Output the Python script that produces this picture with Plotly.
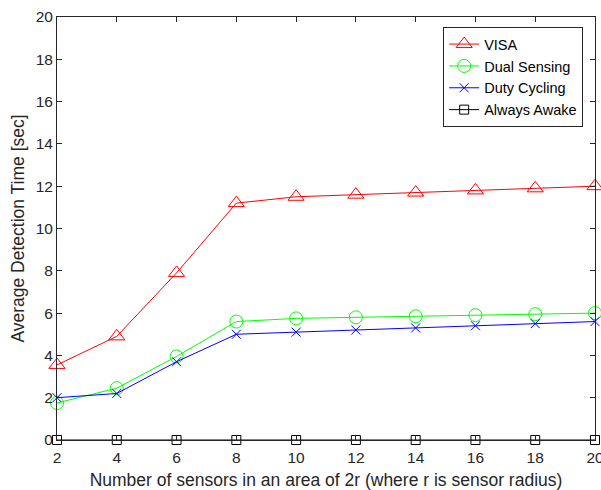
import plotly.graph_objects as go

x_vals = [2, 4, 6, 8, 10, 12, 14, 16, 18, 20]
visa = [3.55, 4.9, 7.9, 11.2, 11.5, 11.6, 11.7, 11.8, 11.9, 12.0]
dual_sensing = [1.75, 2.45, 3.95, 5.6, 5.75, 5.8, 5.85, 5.9, 5.95, 6.0]
duty_cycling = [2.0, 2.2, 3.7, 5.0, 5.1, 5.2, 5.3, 5.4, 5.5, 5.6]
always_awake = [0, 0, 0, 0, 0, 0, 0, 0, 0, 0]

series = [
    ("VISA", visa, "#FF0000", "triangle-up-open", 14),
    ("Dual Sensing", dual_sensing, "#00FF00", "circle-open", 13),
    ("Duty Cycling", duty_cycling, "#0000FF", "x-thin-open", 9),
    ("Always Awake", always_awake, "#000000", "square-open", 9),
]

fig = go.Figure()
for name, ys, color, sym, size in series:
    fig.add_trace(go.Scatter(
        x=x_vals, y=ys, name=name, mode="lines+markers",
        line=dict(color=color, width=1),
        marker=dict(symbol=sym, size=size, color=color, line=dict(color=color, width=1)),
        cliponaxis=False,
    ))

font_family = "Liberation Sans, Arial, sans-serif"
axis_common = dict(
    showline=True, linecolor="#262626", linewidth=1, mirror="ticks",
    ticks="inside", ticklen=5, tickcolor="#262626", showgrid=False, zeroline=False,
    tickfont=dict(family=font_family, size=15.5, color="#262626"),
    ticklabeloverflow="allow", automargin=False,
)
fig.update_layout(
    width=601, height=490,
    margin=dict(l=57, r=6, t=17, b=50, autoexpand=False),
    plot_bgcolor="white", paper_bgcolor="white",
    font=dict(family=font_family, color="#262626"),
    xaxis=dict(range=[2, 20], tickvals=x_vals, ticklabelstandoff=3,
               title=dict(text="Number of sensors in an area of 2r (where r is sensor radius)",
                          font=dict(size=17.5), standoff=12),
               **axis_common),
    yaxis=dict(range=[0, 20], tickvals=list(range(0, 21, 2)),
               title=dict(text="Average Detection Time [sec]", font=dict(size=17.5), standoff=6),
               **axis_common),
    legend=dict(x=0.978, y=0.976, xanchor="right", yanchor="top",
                bgcolor="white", bordercolor="#262626", borderwidth=1,
                font=dict(family=font_family, size=14.5, color="#000000"),
                tracegroupgap=0, itemwidth=30),
    showlegend=True,
)

fig.write_html("out.html")
